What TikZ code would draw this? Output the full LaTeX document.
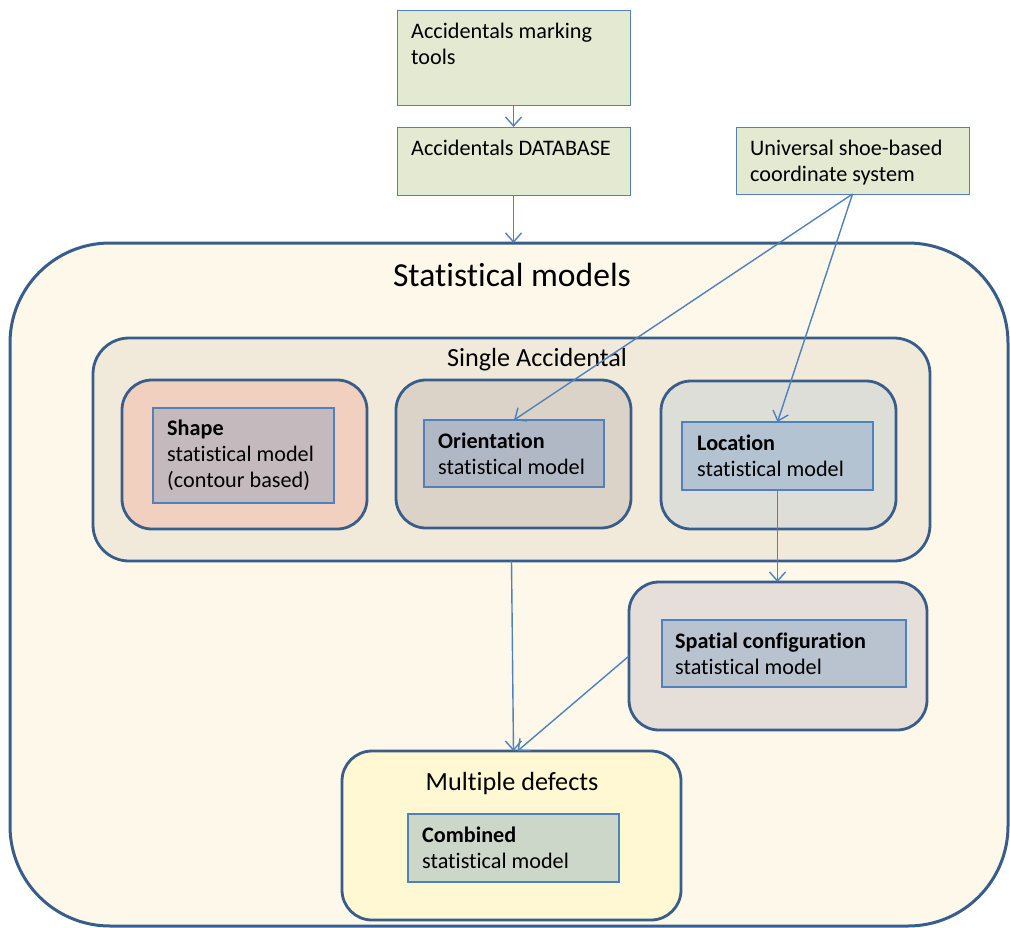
\documentclass[tikz,border=0pt]{standalone}
\usepackage{fontspec}
\setmainfont{Carlito}[Ligatures=CommonOff]
\usetikzlibrary{arrows.meta,calc}
\definecolor{lineblue}{RGB}{79,129,189}
\definecolor{darkblue}{RGB}{56,93,138}
\definecolor{boxgreen}{RGB}{227,234,209}
\definecolor{cream}{RGB}{254,248,234}
\definecolor{singlefill}{RGB}{241,234,218}
\definecolor{shapeout}{RGB}{242,208,192}
\definecolor{shapein}{RGB}{196,185,189}
\definecolor{oriout}{RGB}{219,211,200}
\definecolor{oriin}{RGB}{176,184,198}
\definecolor{locout}{RGB}{222,222,217}
\definecolor{locin}{RGB}{179,195,209}
\definecolor{spout}{RGB}{229,222,217}
\definecolor{spin}{RGB}{185,195,207}
\definecolor{mdout}{RGB}{255,248,210}
\definecolor{mdin}{RGB}{204,215,202}
\begin{document}
\begin{tikzpicture}[x=1pt,y=-1pt,
  wh/.style 2 args={minimum width=#1pt, minimum height=#2pt},
  topbox/.style={draw=lineblue, line width=1pt, fill=boxgreen, inner sep=0pt, outer sep=0pt, anchor=north west},
  cont/.style={draw=darkblue, line width=2.8pt, rounded corners=30pt, inner sep=0pt, outer sep=0pt, anchor=north west},
  inbox/.style={draw=lineblue, line width=1.2pt, inner sep=0pt, outer sep=0pt, anchor=north west},
  txt/.style={font=\fontsize{22.2}{26}\selectfont, inner sep=0pt, anchor=base west},
  ttl/.style={font=\fontsize{26.2}{31}\selectfont, inner sep=0pt, anchor=base},
  conn/.style={draw=lineblue, line width=1.4pt, -{Straight Barb[length=9pt,width=16pt]}}]
\useasboundingbox (0,0) rectangle (1010,927);
% top boxes
\node[topbox, wh={233}{95}] (A) at (397,10) {};
\node[topbox, wh={233}{68}] (B) at (397,127) {};
\node[topbox, wh={233}{67}] (C) at (736,127) {};
\node[txt] (tA) at (411,38) {\begin{tabular}[t]{@{}l@{}}Accidentals marking\\tools\end{tabular}};
\node[txt] (tB) at (411,155) {Accidentals DATABASE};
\node[txt] (tC) at (750,155) {\begin{tabular}[t]{@{}l@{}}Universal shoe-based\\coordinate system\end{tabular}};
% outer container
\node[cont, fill=cream, rounded corners=100pt, line width=3pt, wh={998}{683}] (SM) at (10,243) {};
\node[ttl, font=\fontsize{33.6}{40}\selectfont] (tSM) at (512,286) {Statistical models};
% single accidental
\node[cont, fill=singlefill, rounded corners=36pt, wh={837}{223}] (SA) at (93,338) {};
\node[ttl] (tSA) at (537,366) {Single Accidental};
% shape
\node[cont, fill=shapeout, wh={245}{149}] (SHo) at (122,380) {};
\node[inbox, fill=shapein, wh={181}{95}] (SHi) at (153,408) {};
\node[txt] (tSH) at (167,435) {\begin{tabular}[t]{@{}l@{}}\textbf{Shape}\\statistical model\\(contour based)\end{tabular}};
% orientation
\node[cont, fill=oriout, wh={235}{148}] (ORo) at (396,380) {};
\node[inbox, fill=oriin, wh={180}{67}] (ORi) at (424,420) {};
\node[txt] (tOR) at (438,448) {\begin{tabular}[t]{@{}l@{}}\textbf{Orientation}\\statistical model\end{tabular}};
% location
\node[cont, fill=locout, wh={235}{148}] (LOo) at (661,381) {};
\node[inbox, fill=locin, wh={191}{68}] (LOi) at (682,422) {};
\node[txt] (tLO) at (697,450) {\begin{tabular}[t]{@{}l@{}}\textbf{Location}\\statistical model\end{tabular}};
% spatial configuration
\node[cont, fill=spout, wh={298}{148}] (SPo) at (629,582) {};
\node[inbox, fill=spin, wh={244}{67}] (SPi) at (662,620) {};
\node[txt] (tSP) at (675,648) {\begin{tabular}[t]{@{}l@{}}\textbf{Spatial configuration}\\statistical model\end{tabular}};
% multiple defects
\node[cont, fill=mdout, wh={339}{169}] (MDo) at (342,751) {};
\node[ttl] (tMD) at (512,790) {Multiple defects};
\node[inbox, fill=mdin, wh={211}{68}] (MDi) at (408,814) {};
\node[txt] (tMDi) at (422,842) {\begin{tabular}[t]{@{}l@{}}\textbf{Combined}\\statistical model\end{tabular}};
% connectors
\draw[conn] (A.south) -- (B.north);
\draw[conn] (B.south) -- (B.south |- SM.north);
\draw[conn] (C.south) -- (ORi.north);
\draw[conn] (C.south) -- (LOi.north);
\draw[conn] (LOi.south) -- (LOi.south |- SPo.north);
\draw[conn] (SA.south) -- ($(MDo.north)+(2,0)$);
\draw[conn] (SPo.west) -- ($(MDo.north)+(6,0)$);
\end{tikzpicture}
\end{document}
